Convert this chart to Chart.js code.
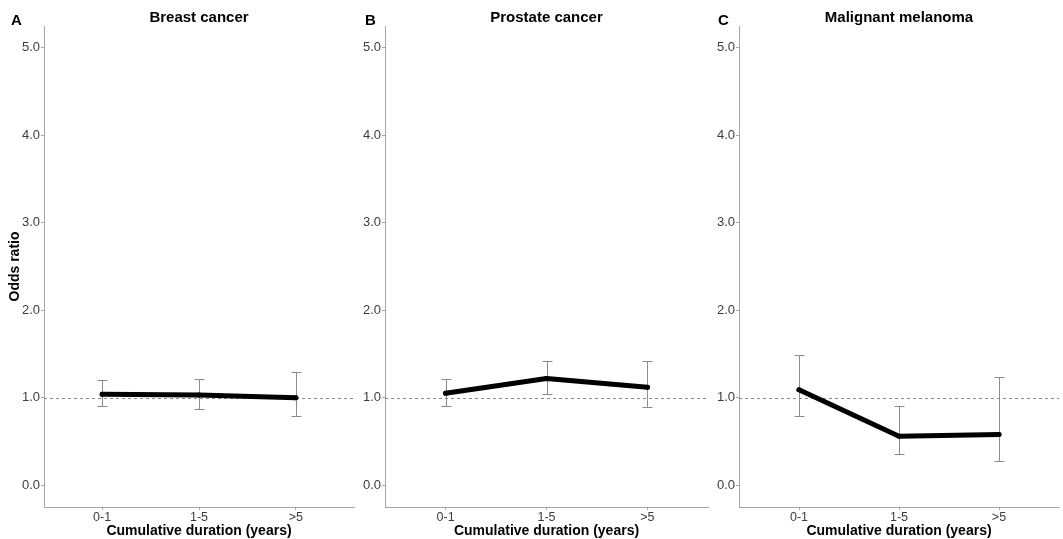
<!DOCTYPE html>
<html><head><meta charset="utf-8">
<script src="https://cdn.jsdelivr.net/npm/chart.js@4.4.0/dist/chart.umd.min.js"></script>
<style>
html,body{margin:0;padding:0;background:#fff;width:1063px;height:539px;overflow:hidden}
.p{position:absolute;top:0;height:539px}
</style></head><body>
<div class="p" style="left:0;width:358px"><canvas id="c0"></canvas></div>
<div class="p" style="left:358px;width:354px"><canvas id="c1"></canvas></div>
<div class="p" style="left:712px;width:351px"><canvas id="c2"></canvas></div>
<script>
const categories = ['0-1', '1-5', '>5'];
const yTicks = [0, 1, 2, 3, 4, 5];
const titles = ['Breast cancer', 'Prostate cancer', 'Malignant melanoma'];
const panelLetters = ['A', 'B', 'C'];
const xTitle = 'Cumulative duration (years)';
const yTitle = 'Odds ratio';
const referenceValue = 1.0;

const breastOR   = [1.04, 1.03, 1.00];
const breastLow  = [0.90, 0.87, 0.79];
const breastHigh = [1.20, 1.21, 1.29];

const prostateOR   = [1.05, 1.22, 1.12];
const prostateLow  = [0.91, 1.04, 0.89];
const prostateHigh = [1.21, 1.42, 1.42];

const melanomaOR   = [1.09, 0.56, 0.58];
const melanomaLow  = [0.79, 0.36, 0.28];
const melanomaHigh = [1.49, 0.91, 1.24];

const panels = [
  {or: breastOR, low: breastLow, high: breastHigh},
  {or: prostateOR, low: prostateLow, high: prostateHigh},
  {or: melanomaOR, low: melanomaLow, high: melanomaHigh}
];

const FONT = "'Liberation Sans', Arial, sans-serif";
const AXIS_GRAY = '#a6a6a6';
const TICK_COLOR = '#3d3d3d';
const yWidths = [44, 27, 27];
const letterX = [11, 7, 6];

panels.forEach((p, idx) => {
  const errPlugin = {
    id: 'err' + idx,
    beforeDatasetsDraw(chart) {
      const ctx = chart.ctx, xs = chart.scales.x, ys = chart.scales.y, ca = chart.chartArea;
      ctx.save();
      const yr = Math.round(ys.getPixelForValue(referenceValue)) + 0.5;
      ctx.strokeStyle = '#8a8a8a';
      ctx.lineWidth = 1;
      ctx.setLineDash([3, 3]);
      ctx.beginPath();
      ctx.moveTo(ca.left, yr);
      ctx.lineTo(ca.right, yr);
      ctx.stroke();
      ctx.setLineDash([]);
      ctx.strokeStyle = '#8c8c8c';
      p.or.forEach((v, i) => {
        const x = Math.round(xs.getPixelForValue(i + 1)) + 0.5;
        const y1 = Math.round(ys.getPixelForValue(p.low[i])) + 0.5;
        const y2 = Math.round(ys.getPixelForValue(p.high[i])) + 0.5;
        ctx.beginPath();
        ctx.moveTo(x, y1); ctx.lineTo(x, y2);
        ctx.moveTo(x - 5, y1); ctx.lineTo(x + 5, y1);
        ctx.moveTo(x - 5, y2); ctx.lineTo(x + 5, y2);
        ctx.stroke();
      });
      ctx.restore();
    },
    afterDraw(chart) {
      const ctx = chart.ctx;
      ctx.save();
      ctx.font = 'bold 15px ' + FONT;
      ctx.fillStyle = '#000';
      ctx.textBaseline = 'alphabetic';
      ctx.textAlign = 'left';
      ctx.fillText(panelLetters[idx], letterX[idx], 25);
      ctx.restore();
    }
  };

  new Chart(document.getElementById('c' + idx), {
    type: 'line',
    data: {
      datasets: [{
        data: p.or.map((v, i) => ({x: i + 1, y: v})),
        borderColor: '#000',
        backgroundColor: '#000',
        borderWidth: 5,
        borderJoinStyle: 'round',
        borderCapStyle: 'round',
        pointRadius: 2.5,
        pointBorderWidth: 0,
        pointBackgroundColor: '#000',
        tension: 0
      }]
    },
    options: {
      responsive: true,
      maintainAspectRatio: false,
      devicePixelRatio: 1,
      animation: false,
      layout: {padding: {top: 0, left: 0, right: 2, bottom: 0}},
      plugins: {
        legend: {display: false},
        tooltip: {enabled: false},
        title: {
          display: true,
          text: titles[idx],
          fullSize: false,
          color: '#000',
          font: {family: FONT, size: 15, weight: 'bold', lineHeight: 16 / 15},
          padding: {top: 10, bottom: 0}
        }
      },
      scales: {
        x: {
          type: 'linear',
          min: 0.4,
          max: 3.6,
          afterBuildTicks: s => { s.ticks = categories.map((c, i) => ({value: i + 1})); },
          afterFit: s => { s.height = 32; },
          ticks: {
            callback: (v, i) => categories[i],
            color: TICK_COLOR,
            font: {family: FONT, size: 12.5},
            padding: 0,
            maxRotation: 0,
            autoSkip: false
          },
          grid: {display: true, drawOnChartArea: false, drawTicks: true, tickLength: 3, color: AXIS_GRAY},
          border: {display: true, color: AXIS_GRAY, width: 1},
          title: {display: true, text: xTitle, color: '#000', font: {family: FONT, size: 14, weight: 'bold'}, padding: {top: 0, bottom: -1}}
        },
        y: {
          type: 'linear',
          min: -0.25,
          max: 5.25,
          afterBuildTicks: s => { s.ticks = yTicks.map(v => ({value: v})); },
          afterFit: s => { s.width = yWidths[idx]; },
          ticks: {
            callback: v => Number(v).toFixed(1),
            color: TICK_COLOR,
            font: {family: FONT, size: 13},
            padding: 1
          },
          grid: {display: true, drawOnChartArea: false, drawTicks: true, tickLength: 3, color: AXIS_GRAY},
          border: {display: true, color: AXIS_GRAY, width: 1},
          title: {display: idx === 0, text: yTitle, color: '#000', font: {family: FONT, size: 14, weight: 'bold'}, padding: {top: 7, bottom: 0}}
        }
      }
    },
    plugins: [errPlugin]
  });
});
</script>
</body></html>
